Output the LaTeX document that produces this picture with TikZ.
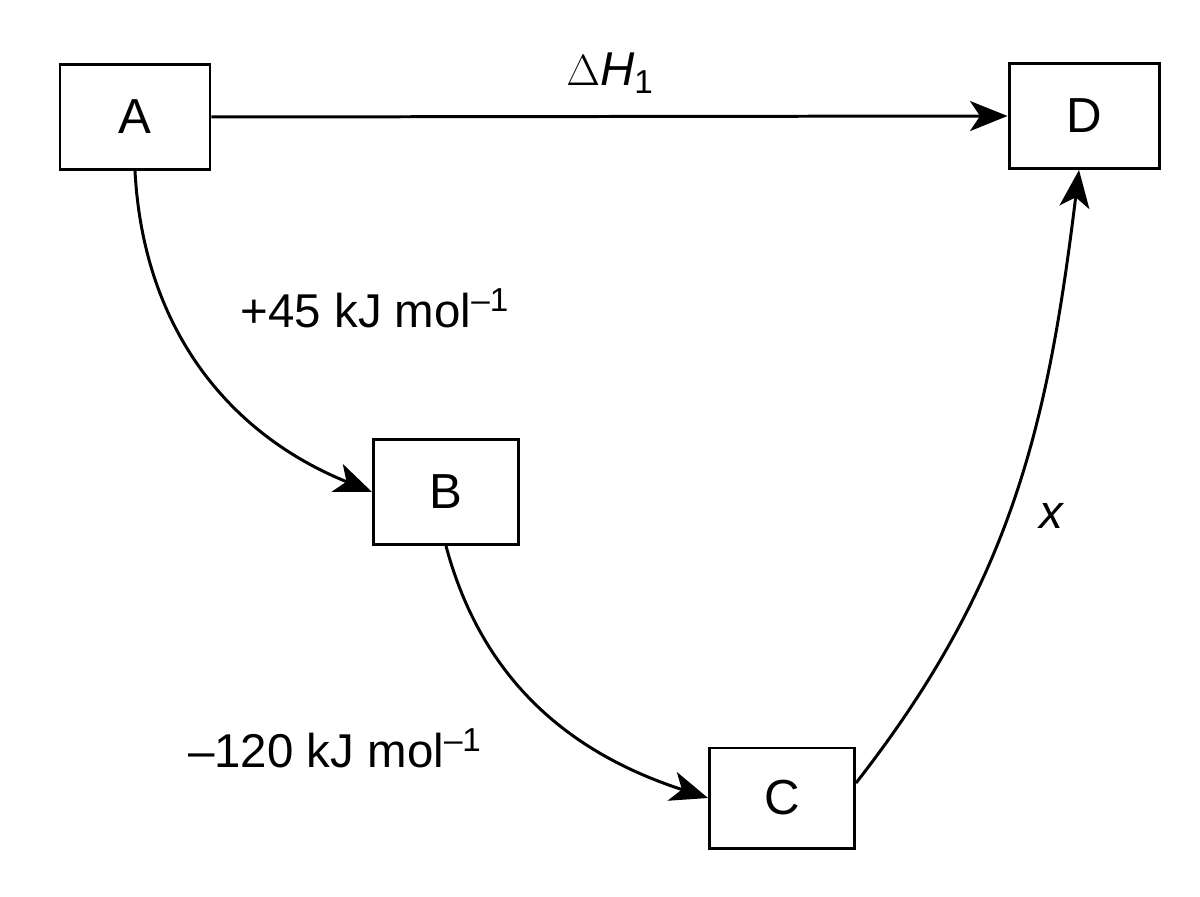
\documentclass[tikz,border=0pt]{standalone}
\usepackage{fontspec}
\setmainfont{Liberation Sans}
\usetikzlibrary{arrows.meta}
\begin{document}
\begin{tikzpicture}[
    box/.style = {draw, line width = 1.7pt, minimum width = 3.0cm, minimum height = 2.1cm, inner sep = 0pt, font = \fontsize{28}{30}\selectfont},
    link/.style = {line width = 1.7pt, -{Stealth[length = 0.75cm, width = 0.6cm, inset = 0.2cm]}},
    lbl/.style = {font = \fontsize{27}{30}\selectfont}
  ]
  \useasboundingbox (0,0) rectangle (24,17.92);
  % species
  \node [box] (A) at (2.70, 15.58) {A};
  \node [box] (D) at (21.68, 15.60) {D};
  \node [box, minimum width = 2.9cm] (B) at (8.92, 8.08) {B};
  \node [box, minimum width = 2.9cm, minimum height = 2.0cm] (C) at (15.64, 1.96) {C};
  % steps
  \draw [link] (A.east) -- (D.west);
  \draw [link] (A.south) to [out = -87, in = 158] (B.west);
  \draw [link] (B.south) to [out = -75, in = 162] (C.west);
  \draw [link] ([yshift = 0.3cm] C.east) to [out = 52, in = -97] ([xshift = -0.1cm] D.south);
  % labels
  \node [lbl] (dh) at (12.2, 16.45) {$\Delta$\textit{H}\textsubscript{1}};
  \node [lbl] (ab) at (7.5, 11.75) {+45 kJ mol\textsuperscript{–1}};
  \node [lbl] (bc) at (6.7, 2.95) {–120 kJ mol\textsuperscript{–1}};
  \node [lbl] (cd) at (21.05, 7.6) {\textit{x}};
\end{tikzpicture}
\end{document}
